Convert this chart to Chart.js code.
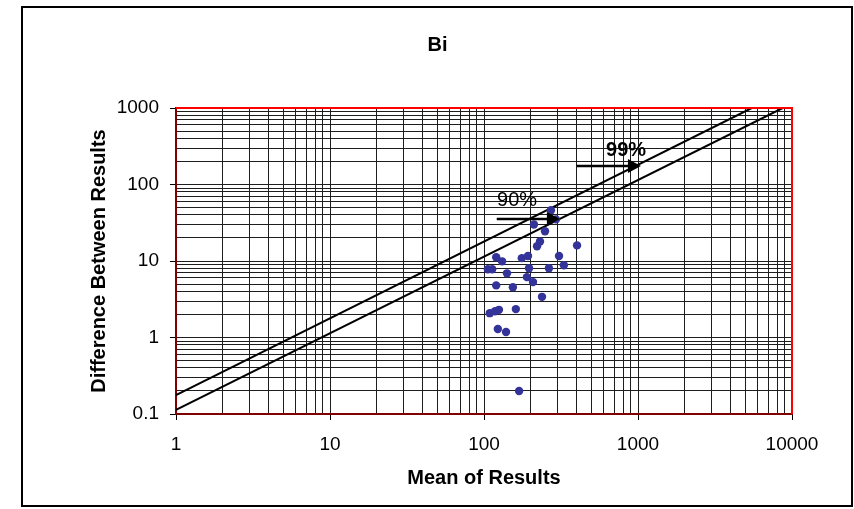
<!DOCTYPE html>
<html>
<head>
<meta charset="utf-8">
<title>Bi</title>
<script src="https://cdn.jsdelivr.net/npm/chart.js@4/dist/chart.umd.min.js"></script>
<style>
  body { margin: 0; background: #fff; }
  #wrap { width: 854px; height: 509px; }
</style>
</head>
<body>
<div id="wrap"><canvas id="biChart" width="854" height="509"></canvas></div>
<script>
const FONT = "'Liberation Sans', Arial, sans-serif";

// axis decades (tick labels)
const xDecades = [1, 10, 100, 1000, 10000];
const yDecades = [0.1, 1, 10, 100, 1000];

// scatter points
const meanValues = [272, 293, 211, 249, 231, 221, 402, 120, 131, 176, 193, 307, 330, 106, 113,
  196, 264, 141, 190, 208, 120, 154, 238, 161, 109, 118, 125, 123, 139, 169];
const diffValues = [46, 35, 30, 24.5, 18, 15.6, 16, 11.2, 9.9, 10.9, 11.6, 11.6, 8.8, 7.8, 7.8,
  8.05, 8.05, 6.9, 6.15, 5.3, 4.8, 4.55, 3.4, 2.35, 2.08, 2.2, 2.3, 1.29, 1.18, 0.2];

// limit lines
const line99X = [1, 5480];
const line99Y = [0.177, 1000];
const line90X = [1, 8700];
const line90Y = [0.113, 1000];

// arrow annotations
const arrowLabels = ['90%', '99%'];
const arrowY = [35.9, 173];
const arrowStartX = [121, 400];
const arrowEndX = [311, 1045];
const labelX = [164, 836];
const labelY = [61, 279];

function logTicks(decades) {
    const out = [];
    decades.forEach((d, i) => {
        if (i === decades.length - 1) { out.push(d); return; }
        for (let m = 1; m < 10; m++) out.push(+(d * m).toPrecision(3));
    });
    return out;
}

function toPoints(xs, ys) {
    return xs.map((x, i) => ({ x: x, y: ys[i] }));
}

const frameAndArrows = {
    id: 'frameAndArrows',
    afterDatasetsDraw(chart) {
        const ctx = chart.ctx;
        const xs = chart.scales.x, ys = chart.scales.y;
        const a = chart.chartArea;
        ctx.save();
        // red plot border, top and right
        ctx.strokeStyle = '#ff0000';
        ctx.lineWidth = 2;
        ctx.beginPath();
        ctx.moveTo(a.left, a.top);
        ctx.lineTo(a.right, a.top);
        ctx.lineTo(a.right, a.bottom);
        ctx.stroke();

        arrowLabels.forEach((label, i) => {
            const y = Math.round(ys.getPixelForValue(arrowY[i]));
            const x0 = xs.getPixelForValue(arrowStartX[i]);
            const x1 = xs.getPixelForValue(arrowEndX[i]);
            ctx.strokeStyle = '#000';
            ctx.fillStyle = '#000';
            ctx.lineWidth = 2.6;
            ctx.beginPath();
            ctx.moveTo(x0, y);
            ctx.lineTo(x1 - 10, y);
            ctx.stroke();
            ctx.beginPath();
            ctx.moveTo(x1, y);
            ctx.lineTo(x1 - 13, y - 7);
            ctx.lineTo(x1 - 13, y + 7);
            ctx.closePath();
            ctx.fill();

            ctx.font = (i === 1 ? 'bold ' : '') + '20px ' + FONT;
            ctx.textAlign = 'center';
            ctx.textBaseline = 'middle';
            ctx.fillText(label, xs.getPixelForValue(labelX[i]), ys.getPixelForValue(labelY[i]));
        });
        ctx.restore();
    },
    afterDraw(chart) {
        const ctx = chart.ctx;
        ctx.save();
        ctx.strokeStyle = '#000';
        ctx.lineWidth = 2;
        ctx.strokeRect(22, 7, 830, 499);
        ctx.restore();
    }
};

function gridColor(ctx) {
    return '#1e1e1e';
}

function tickColor(decades) {
    return ctx => (ctx.tick && decades.includes(ctx.tick.value)) ? '#000' : 'rgba(0,0,0,0)';
}

const chart = new Chart(document.getElementById('biChart'), {
    type: 'scatter',
    data: {
        datasets: [{
            label: 'Bi',
            data: toPoints(meanValues, diffValues),
            backgroundColor: '#333399',
            borderWidth: 0,
            pointRadius: 4.2,
            pointHoverRadius: 4.2
        }, {
            label: '99%',
            type: 'line',
            data: toPoints(line99X, line99Y),
            borderColor: '#000',
            borderWidth: 2,
            pointRadius: 0,
            fill: false,
            tension: 0
        }, {
            label: '90%',
            type: 'line',
            data: toPoints(line90X, line90Y),
            borderColor: '#000',
            borderWidth: 2,
            pointRadius: 0,
            fill: false,
            tension: 0
        }]
    },
    options: {
        responsive: false,
        animation: false,
        devicePixelRatio: 1,
        layout: { padding: { left: 83, right: 62, top: 0, bottom: 15 } },
        plugins: {
            legend: { display: false },
            tooltip: { enabled: false },
            title: {
                display: true,
                text: 'Bi',
                color: '#000',
                font: { family: FONT, size: 20, weight: 'bold' },
                padding: { top: 33, bottom: 51 }
            }
        },
        scales: {
            x: {
                type: 'logarithmic',
                min: 1,
                max: 10000,
                afterBuildTicks: scale => { scale.ticks = logTicks(xDecades).map(v => ({ value: v })); },
                afterFit: scale => { scale.height = 80; },
                ticks: {
                    autoSkip: false,
                    maxRotation: 0,
                    padding: 13,
                    color: '#000',
                    font: { family: FONT, size: 19 },
                    callback: value => xDecades.includes(value) ? String(value) : ''
                },
                grid: { color: gridColor, lineWidth: 1, tickLength: 6, tickColor: tickColor(xDecades) },
                border: { color: '#800000', width: 2 },
                title: {
                    display: true,
                    text: 'Mean of Results',
                    color: '#000',
                    font: { family: FONT, size: 20, weight: 'bold' }
                }
            },
            y: {
                type: 'logarithmic',
                min: 0.1,
                max: 1000,
                afterBuildTicks: scale => { scale.ticks = logTicks(yDecades).map(v => ({ value: v })); },
                afterFit: scale => { scale.width = 93; },
                ticks: {
                    autoSkip: false,
                    padding: 11,
                    color: '#000',
                    font: { family: FONT, size: 19 },
                    callback: value => yDecades.includes(value) ? String(value) : ''
                },
                grid: { color: gridColor, lineWidth: 1, tickLength: 6, tickColor: tickColor(yDecades) },
                border: { color: '#800000', width: 2 },
                title: {
                    display: true,
                    text: 'Difference Between Results',
                    color: '#000',
                    font: { family: FONT, size: 20, weight: 'bold' }
                }
            }
        }
    },
    plugins: [frameAndArrows]
});
</script>
</body>
</html>
